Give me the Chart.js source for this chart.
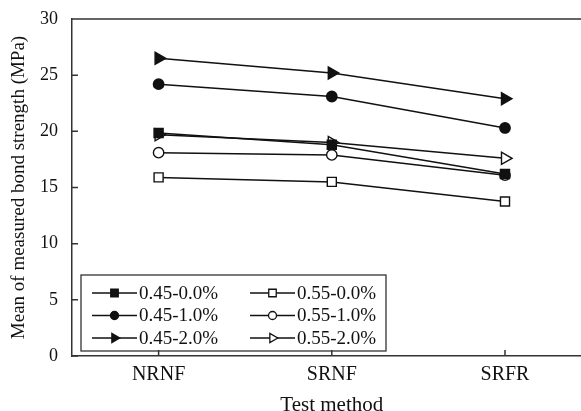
<!DOCTYPE html>
<html>
<head>
<meta charset="utf-8">
<script src="https://cdn.jsdelivr.net/npm/chart.js@4/dist/chart.umd.min.js"></script>
<style>
  html, body { margin: 0; padding: 0; background: #fff; overflow: hidden; }
  #wrap { width: 600px; height: 418px; position: relative; }
</style>
</head>
<body>
<div id="wrap"><canvas id="bondChart"></canvas></div>
<script>
const testMethods = ["NRNF", "SRNF", "SRFR"];
const seriesNames = ["0.45-0.0%", "0.45-1.0%", "0.45-2.0%", "0.55-0.0%", "0.55-1.0%", "0.55-2.0%"];

const w45_00 = [19.85, 18.8, 16.2];
const w45_10 = [24.2, 23.1, 20.3];
const w45_20 = [26.5, 25.2, 22.9];
const w55_00 = [15.9, 15.5, 13.75];
const w55_10 = [18.1, 17.9, 16.1];
const w55_20 = [19.7, 19.0, 17.6];

const yTicks = [0, 5, 10, 15, 20, 25, 30];

const ink = "#111";
const serif = "'Liberation Serif', 'DejaVu Serif', serif";

function series(label, data, style, filled, extra) {
    return Object.assign({
        label,
        data,
        borderColor: ink,
        borderWidth: 1.5,
        pointStyle: style,
        pointBackgroundColor: filled ? ink : "#fff",
        pointBorderColor: ink,
        pointBorderWidth: 1.4,
        pointRadius: 4.5,
        tension: 0
    }, extra || {});
}

const datasets = [
    series(seriesNames[0], w45_00, "rect", true, { pointRadius: 6.4 }),
    series(seriesNames[1], w45_10, "circle", true, { pointRadius: 5.2 }),
    series(seriesNames[2], w45_20, "triangle", true, { pointRadius: 7, pointRotation: 90 }),
    series(seriesNames[3], w55_00, "rect", false, { pointRadius: 6.4 }),
    series(seriesNames[4], w55_10, "circle", false, { pointRadius: 5.2 }),
    series(seriesNames[5], w55_20, "triangle", false, { pointRadius: 7, pointRotation: 90 })
];

// inward ticks, top frame line and the boxed legend
const framePlugin = {
    id: "frame",
    afterDraw(chart) {
        const ctx = chart.ctx;
        const a = chart.chartArea;
        const xs = chart.scales.x, ys = chart.scales.y;
        ctx.save();
        ctx.strokeStyle = "#333";
        ctx.lineWidth = 1.5;
        ctx.beginPath();
        ctx.moveTo(a.left, a.top);
        ctx.lineTo(a.right, a.top);
        yTicks.forEach(v => {
            const py = ys.getPixelForValue(v);
            ctx.moveTo(a.left, py);
            ctx.lineTo(a.left + 6, py);
        });
        testMethods.forEach((m, i) => {
            const px = xs.getPixelForValue(i);
            ctx.moveTo(px, a.bottom);
            ctx.lineTo(px, a.bottom - 6);
        });
        ctx.stroke();

        // legend box
        const bx = 81, by = 275, bw = 305, bh = 76;
        ctx.lineWidth = 1.3;
        ctx.strokeRect(bx, by, bw, bh);
        ctx.font = "19px " + serif;
        ctx.textBaseline = "middle";
        const rows = [293, 315.5, 338];
        const cols = [92, 250];
        chart.data.datasets.forEach((ds, i) => {
            const col = Math.floor(i / 3), row = i % 3;
            const x0 = cols[col], y0 = rows[row];
            ctx.strokeStyle = ink;
            ctx.lineWidth = 1.5;
            ctx.beginPath();
            ctx.moveTo(x0, y0);
            ctx.lineTo(x0 + 45, y0);
            ctx.stroke();
            ctx.fillStyle = ds.pointBackgroundColor;
            ctx.lineWidth = 1.3;
            Chart.helpers.drawPoint(ctx, {
                pointStyle: ds.pointStyle,
                radius: ds.pointStyle === "circle" ? 4 : 5.3,
                rotation: ds.pointRotation || 0,
                borderWidth: 1.3
            }, x0 + 22.5, y0);
            ctx.fillStyle = ink;
            ctx.fillText(ds.label, x0 + 47, y0 + 1);
        });
        ctx.restore();
    }
};

new Chart(document.getElementById("bondChart"), {
    type: "line",
    data: { labels: testMethods, datasets },
    options: {
        responsive: true,
        maintainAspectRatio: false,
        animation: false,
        layout: { padding: { top: 19, right: 7, left: 0, bottom: 0 } },
        plugins: { legend: { display: false }, tooltip: { enabled: false } },
        scales: {
            x: {
                offset: true,
                grid: { display: false, drawTicks: false },
                border: { display: true, color: "#333", width: 1.5 },
                ticks: { color: ink, padding: 7, font: { family: serif, size: 20 } },
                title: {
                    display: true,
                    text: "Test method",
                    color: ink,
                    padding: { top: 4, bottom: 0 },
                    font: { family: serif, size: 21 }
                },
                afterFit(scale) {
                    scale.height = 62;
                    scale.paddingLeft = 0;
                    scale.paddingRight = 0;
                }
            },
            y: {
                min: 0,
                max: 30,
                afterBuildTicks(scale) { scale.ticks = yTicks.map(v => ({ value: v })); },
                grid: { display: false, drawTicks: false },
                border: { display: true, color: "#333", width: 1.5 },
                ticks: { color: ink, padding: 14, font: { family: serif, size: 18 } },
                title: {
                    display: true,
                    text: "Mean of measured bond strength (MPa)",
                    color: ink,
                    padding: { top: 8, bottom: 0 },
                    font: { family: serif, size: 19 }
                },
                afterFit(scale) {
                    scale.width = 72;
                    scale.paddingTop = 0;
                    scale.paddingBottom = 0;
                }
            }
        }
    },
    plugins: [framePlugin]
});
</script>
</body>
</html>
